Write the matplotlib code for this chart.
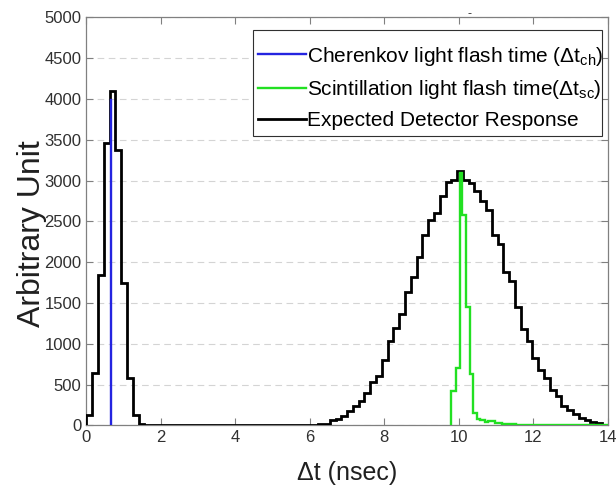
import numpy as np
import matplotlib
matplotlib.use('Agg')
import matplotlib.pyplot as plt
from matplotlib.lines import Line2D
from matplotlib.patches import Rectangle

plt.rcParams['font.family'] = ['Liberation Sans', 'DejaVu Sans']
plt.rcParams['mathtext.default'] = 'regular'

# black histogram: 90 bins of equal width over 0..14 ns
det_edges = np.linspace(0, 14, 91)
det_counts = [130, 645, 1840, 3455, 4095, 3375, 1750, 585, 130, 20,
              5, 5, 5, 5, 5, 5, 5, 5, 5, 5, 5, 5, 5, 5, 5, 5,
              5, 5, 5, 5, 5, 5, 5, 5, 5, 5,
              8, 10, 12, 12,
              15, 22, 70, 80, 115, 175, 240, 300, 400, 535, 605, 800, 1030, 1190, 1360,
              1640, 1817, 2064, 2331, 2516, 2599, 2805, 2982, 3010, 3121, 3010, 2969,
              2866, 2743, 2640, 2331,
              2228, 1878, 1774,
              1446, 1187, 1035, 829, 685, 582, 438, 356, 233, 191, 142, 97, 68, 39, 27, 8]

# scintillation histogram (green)
sc_edges = [9.78, 9.93, 10.02, 10.10, 10.20, 10.30, 10.37, 10.48, 10.57,
            10.70, 10.79, 10.97, 11.15, 11.55, 12.0, 14.0]
sc_counts = [420, 700, 3090, 2580, 1450, 630, 150, 75, 65, 40, 60, 35, 18, 12, 8]

# cherenkov flash (blue)
ch_time = [0.66, 0.66]
ch_count = [0, 3990]

labels = ['Cherenkov light flash time (Δt$_{ch}$)',
          'Scintillation light flash time(Δt$_{sc}$)',
          'Expected Detector Response']

fig = plt.figure(figsize=(6.16, 4.87), dpi=100)
ax = fig.add_axes([0.1404, 0.1263, 0.8461, 0.8384])

ax.grid(True, axis='y', color='#d4d4d4', linestyle=(0, (6, 4)), linewidth=0.8)
ax.set_axisbelow(True)

ax.stairs(det_counts, det_edges, baseline=0, color='black', lw=2.0, zorder=3)
ax.stairs(sc_counts, sc_edges, baseline=0, color='#22e022', lw=1.7, zorder=4)
ax.plot(ch_time, ch_count, color='#2424e0', lw=1.7, zorder=4)

ax.set_xlim(0, 14)
ax.set_ylim(0, 5000)
ax.set_xticks(np.arange(0, 15, 2))
ax.set_yticks(np.arange(0, 5001, 500))
ax.tick_params(direction='in', top=True, right=True, length=5, width=0.8,
               color='#808080', labelcolor='#303030', labelsize=12)
for s in ax.spines.values():
    s.set_color('#808080')
    s.set_linewidth(0.9)

ax.set_xlabel('Δt (nsec)', fontsize=18, color='#202020', labelpad=11)
ax.set_ylabel('Arbitrary Unit', fontsize=23, color='#202020')
ax.yaxis.set_label_coords(-0.075, 0.47)

# legend box drawn separately (more padding top/bottom than sides)
ax.add_patch(Rectangle((0.319, 0.709), 0.670, 0.2606, transform=ax.transAxes,
                       facecolor='white', edgecolor='#303030', lw=0.8, zorder=5))
handles = [Line2D([], [], color='#2424e0', lw=1.7),
           Line2D([], [], color='#22e022', lw=1.7),
           Line2D([], [], color='black', lw=2.0)]
leg = ax.legend(handles, labels, loc='upper left', bbox_to_anchor=(0.329, 0.933),
                borderaxespad=0, borderpad=0, fontsize=15, handlelength=2.3,
                handletextpad=0.05, labelspacing=0.5, frameon=False)
leg.set_zorder(6)

fig.text(0.762, 0.972, '-', fontsize=9, color='#333333', ha='center', va='center')

fig.savefig('out.png', dpi=100)
